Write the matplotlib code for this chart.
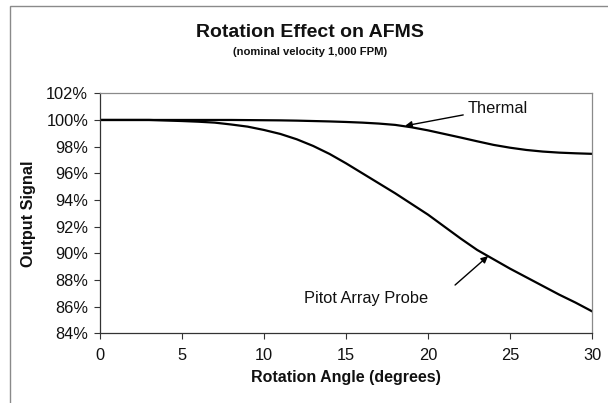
"""Rotation effect on AFMS output signal (thermal vs pitot array probe)."""

import matplotlib
matplotlib.use("Agg")
import matplotlib.pyplot as plt
from matplotlib.patches import Rectangle
from matplotlib.ticker import FuncFormatter, MultipleLocator

plt.rcParams["font.family"] = ["Liberation Sans", "DejaVu Sans"]

# rotation angle, degrees
angle = list(range(0, 31))
# output signal, percent of nominal
thermal = [100.0, 100.0, 100.0, 100.0, 100.0, 100.0, 100.0, 100.0, 100.0, 99.99,
           99.98, 99.97, 99.95, 99.92, 99.89, 99.85, 99.8, 99.73, 99.63, 99.45,
           99.22, 98.95, 98.68, 98.4, 98.13, 97.92, 97.75, 97.63, 97.55, 97.5,
           97.46]
pitot = [100.0, 100.0, 100.0, 100.0, 99.96, 99.92, 99.87, 99.8, 99.66, 99.5,
         99.25, 98.95, 98.55, 98.05, 97.45, 96.75, 96.0, 95.25, 94.5, 93.7,
         92.9, 92.0, 91.1, 90.25, 89.55, 88.85, 88.2, 87.55, 86.9, 86.3,
         85.65]

fig = plt.figure(figsize=(6.08, 4.03), dpi=100)
fig.patch.set_facecolor("white")

# outer chart frame (runs off the right / bottom edge)
fig.patches.append(Rectangle((10 / 608, -0.05), 1.2, 1 - 6.5 / 403 + 0.05,
                             transform=fig.transFigure, fill=False,
                             edgecolor="#8a8a8a", lw=1.0))

ax = fig.add_axes([100 / 608, 1 - 333.3 / 403, 492 / 608, 240 / 403])

ax.plot(angle, thermal, color="black", lw=1.6)
ax.plot(angle, pitot, color="black", lw=1.6)

ax.set_xlim(0, 30)
ax.set_ylim(84, 102)
ax.xaxis.set_major_locator(MultipleLocator(5))
ax.yaxis.set_major_locator(MultipleLocator(2))
ax.yaxis.set_major_formatter(FuncFormatter(lambda v, _: f"{v:.0f}%"))

ax.tick_params(direction="out", length=4.5, width=0.8, color="#333333",
               labelsize=11.8, labelcolor="#111111")
ax.tick_params(axis="x", pad=6)
ax.tick_params(axis="y", pad=4)

for side in ("left", "bottom"):
    ax.spines[side].set_color("#333333")
    ax.spines[side].set_linewidth(0.9)
for side in ("top", "right"):
    ax.spines[side].set_color("#8a8a8a")
    ax.spines[side].set_linewidth(0.9)

ax.set_xlabel("Rotation Angle (degrees)", fontsize=11.5, fontweight="bold",
              color="#111111", labelpad=5)
ax.set_ylabel("Output Signal", fontsize=11.7, fontweight="bold",
              color="#111111", labelpad=7)

# annotations
ax.annotate("Thermal", xy=(18.6, 99.56), xytext=(22.4, 100.86),
            fontsize=11.8, color="#111111", va="center", ha="left",
            arrowprops=dict(arrowstyle="-|>", color="black", lw=1.0,
                            mutation_scale=10, shrinkA=1, shrinkB=0),
            annotation_clip=False)
ax.annotate("", xy=(23.66, 89.79), xytext=(21.65, 87.62),
            arrowprops=dict(arrowstyle="-|>", color="black", lw=1.0,
                            mutation_scale=10, shrinkA=0, shrinkB=0))
ax.text(12.44, 86.64, "Pitot Array Probe", fontsize=11.8, color="#111111",
        va="center", ha="left")

fig.text(310 / 608, 1 - 32.7 / 403, "Rotation Effect on AFMS", ha="center",
         va="center", fontsize=14, fontweight="bold", color="#111111")
fig.text(310 / 608, 1 - 52.3 / 403, "(nominal velocity 1,000 FPM)", ha="center",
         va="center", fontsize=8.1, fontweight="bold", color="#111111")

fig.savefig("out.png", dpi=100, facecolor="white")
